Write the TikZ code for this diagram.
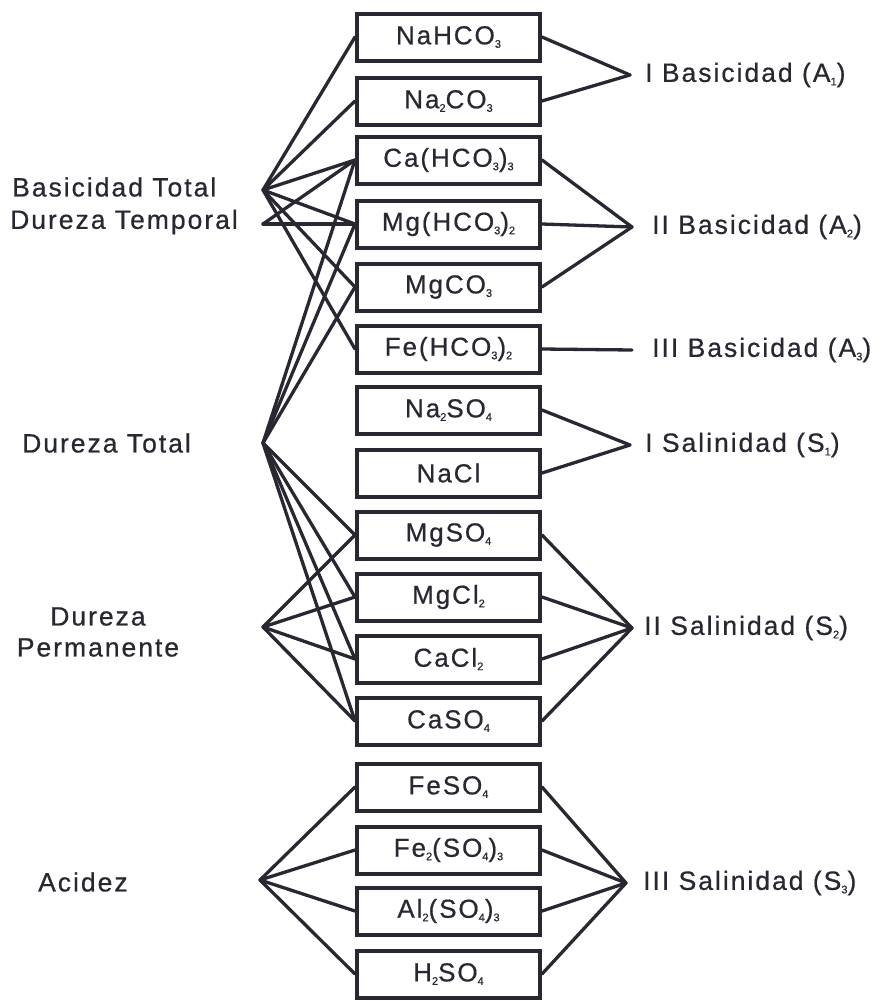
\documentclass[tikz,border=0pt]{standalone}
\usepackage{fontspec}
\setmainfont{Liberation Sans}[LetterSpace=7.5,FakeBold=0.6]
\definecolor{ink}{RGB}{40,40,50}
\newcommand\chsub[1]{\raisebox{-3.5pt}{\fontsize{11}{11}\selectfont #1}}
\begin{document}
\begin{tikzpicture}[x=1pt,y=-1pt,
  every node/.style={text=ink},
  lbl/.style={inner sep=0pt,font=\fontsize{26.5}{31}\selectfont},
  box/.style={draw=ink,line width=4pt,minimum width=183pt,minimum height=47pt,inner sep=0pt,font=\fontsize{26}{30}\selectfont},
  conn/.style={draw=ink,line width=3.3pt,line cap=round}]
\useasboundingbox (0,0) rectangle (892,1001);
% boxes
\node[box] (b1)  at (448.5,37)  {NaHCO\chsub{3}};
\node[box] (b2)  at (448.5,101) {Na\chsub{2}CO\chsub{3}};
\node[box] (b3)  at (448.5,160) {Ca(HCO\chsub{3})\chsub{3}};
\node[box] (b4)  at (448.5,224) {Mg(HCO\chsub{3})\chsub{2}};
\node[box] (b5)  at (448.5,287) {MgCO\chsub{3}};
\node[box] (b6)  at (448.5,349) {Fe(HCO\chsub{3})\chsub{2}};
\node[box] (b7)  at (448.5,410) {Na\chsub{2}SO\chsub{4}};
\node[box] (b8)  at (448.5,473) {NaCl};
\node[box] (b9)  at (448.5,535) {MgSO\chsub{4}};
\node[box] (b10) at (448.5,597) {MgCl\chsub{2}};
\node[box] (b11) at (448.5,659) {CaCl\chsub{2}};
\node[box] (b12) at (448.5,721) {CaSO\chsub{4}};
\node[box] (b13) at (448.5,787) {FeSO\chsub{4}};
\node[box] (b14) at (448.5,850) {Fe\chsub{2}(SO\chsub{4})\chsub{3}};
\node[box] (b15) at (448.5,911) {Al\chsub{2}(SO\chsub{4})\chsub{3}};
\node[box] (b16) at (448.5,974) {H\chsub{2}SO\chsub{4}};
% left labels
\node[lbl,anchor=west] (tBT) at (12,187) {Basicidad Total};
\node[lbl,anchor=west] (tDT) at (10,222) {Dureza Temporal};
\node[lbl,anchor=west] (tDX) at (22,443) {Dureza Total};
\node[lbl,align=center] (tDP) at (98,632) {Dureza\\Permanente};
\node[lbl,anchor=west] (tAc) at (38,882) {Acidez};
% left hubs
\coordinate (hBT) at (263,190);
\coordinate (hDT) at (263,224);
\coordinate (hDX) at (263,443);
\coordinate (hDP) at (263,627);
\coordinate (hAc) at (260,880);
% right hubs
\coordinate (hA1) at (630,75);
\coordinate (hA2) at (632,227);
\coordinate (hA3) at (632,350);
\coordinate (hS1) at (630,445);
\coordinate (hS2) at (632,628);
\coordinate (hS3) at (626,883);
% right labels
\node[lbl,anchor=west] (rA1) at (645,75)  {I Basicidad (A\chsub{1})};
\node[lbl,anchor=west] (rA2) at (652,227) {II Basicidad (A\chsub{2})};
\node[lbl,anchor=west] (rA3) at (652,350) {III Basicidad (A\chsub{3})};
\node[lbl,anchor=west] (rS1) at (645,445) {I Salinidad (S\chsub{1})};
\node[lbl,anchor=west] (rS2) at (644,628) {II Salinidad (S\chsub{2})};
\node[lbl,anchor=west] (rS3) at (643,883) {III Salinidad (S\chsub{3})};
% left connectors
\foreach \b in {b1,b2,b3,b4,b5,b6} \draw[conn] (hBT) -- (\b.west);
\foreach \b in {b3,b4} \draw[conn] (hDT) -- (\b.west);
\foreach \b in {b3,b4,b5,b9,b10,b11,b12} \draw[conn] (hDX) -- (\b.west);
\foreach \b in {b9,b10,b11,b12} \draw[conn] (hDP) -- (\b.west);
\foreach \b in {b13,b14,b15,b16} \draw[conn] (hAc) -- (\b.west);
% right connectors
\foreach \b in {b1,b2} \draw[conn] (\b.east) -- (hA1);
\foreach \b in {b3,b4,b5} \draw[conn] (\b.east) -- (hA2);
\draw[conn] (b6.east) -- (hA3);
\foreach \b in {b7,b8} \draw[conn] (\b.east) -- (hS1);
\foreach \b in {b9,b10,b11,b12} \draw[conn] (\b.east) -- (hS2);
\foreach \b in {b13,b14,b15,b16} \draw[conn] (\b.east) -- (hS3);
\end{tikzpicture}
\end{document}
